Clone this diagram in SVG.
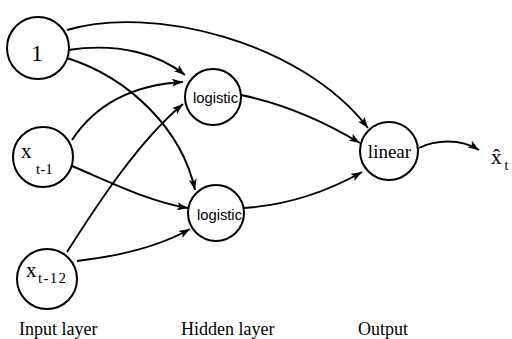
<svg xmlns="http://www.w3.org/2000/svg" width="512" height="339" viewBox="0 0 512 339">
<style>
.node{fill:#fff;stroke:#000;stroke-width:2}
.edge{fill:none;stroke:#000;stroke-width:1.9}
.serif{font-family:"Liberation Serif","Times New Roman",serif;fill:#000}
.sans{font-family:"Liberation Sans",Arial,sans-serif;fill:#000}
.lbl{font-family:"Liberation Serif","Times New Roman",serif;font-size:18px;fill:#000}
</style>
<defs>
<marker id="arr" markerUnits="userSpaceOnUse" markerWidth="12" markerHeight="8" refX="11" refY="4" orient="auto">
<path d="M0,0 L11,4 L0,8 L2.5,4 Z" fill="#000"/>
</marker>
</defs>
<rect width="512" height="339" fill="#fff"/>
<g id="connectors">
<path class="edge" marker-end="url(#arr)" d="M67,30 C150,5 300,40 368,128"/>
<path class="edge" marker-end="url(#arr)" d="M68,50 C120,42 160,55 185,75"/>
<path class="edge" marker-end="url(#arr)" d="M67,58 C130,78 182,130 195,190"/>
<path class="edge" marker-end="url(#arr)" d="M72,140 C95,105 130,85 183,82"/>
<path class="edge" marker-end="url(#arr)" d="M72,166 C110,182 150,202 188,208"/>
<path class="edge" marker-end="url(#arr)" d="M67,252 C100,200 140,140 183,104"/>
<path class="edge" marker-end="url(#arr)" d="M77,261 C120,256 160,246 190,229"/>
<path class="edge" marker-end="url(#arr)" d="M241,95 C290,105 330,125 360,143"/>
<path class="edge" marker-end="url(#arr)" d="M244,208 C290,205 330,190 362,172"/>
<path class="edge" marker-end="url(#arr)" d="M419,148 C435,140 460,138 479,150"/>
</g>
<g id="node-1">
<circle class="node" cx="38" cy="48" r="31"/>
<text class="serif" x="37" y="61" font-size="24" text-anchor="middle">1</text>
</g>
<g id="node-xt1">
<circle class="node" cx="43" cy="157" r="30"/>
<text class="serif" x="21" y="158" font-size="21">x</text>
<text class="serif" x="36" y="174" font-size="15">t-1</text>
</g>
<g id="node-xt12">
<circle class="node" cx="47" cy="279" r="30"/>
<text class="serif" x="26" y="277" font-size="21">x</text>
<text class="serif" x="38" y="283" font-size="15" textLength="28">t-12</text>
</g>
<g id="node-h1">
<circle class="node" cx="213" cy="97" r="28"/>
<text class="sans" x="215.5" y="103" font-size="14" text-anchor="middle" textLength="45" lengthAdjust="spacingAndGlyphs">logistic</text>
</g>
<g id="node-h2">
<circle class="node" cx="216" cy="213" r="28"/>
<text class="sans" x="219.5" y="220" font-size="14" text-anchor="middle" textLength="45" lengthAdjust="spacingAndGlyphs">logistic</text>
</g>
<g id="node-out">
<circle class="node" cx="389" cy="151" r="29"/>
<text class="serif" x="389.5" y="158" font-size="19" text-anchor="middle">linear</text>
</g>
<g id="output-label">
<text class="serif" x="491" y="164" font-size="21" fill="#000">x&#x302;<tspan font-size="14" dx="3" dy="6" fill="#000">t</tspan></text>
</g>
<g id="layer-labels">
<text class="lbl" x="19" y="335">Input layer</text>
<text class="lbl" x="181" y="335">Hidden layer</text>
<text class="lbl" x="358" y="335">Output</text>
</g>
</svg>
